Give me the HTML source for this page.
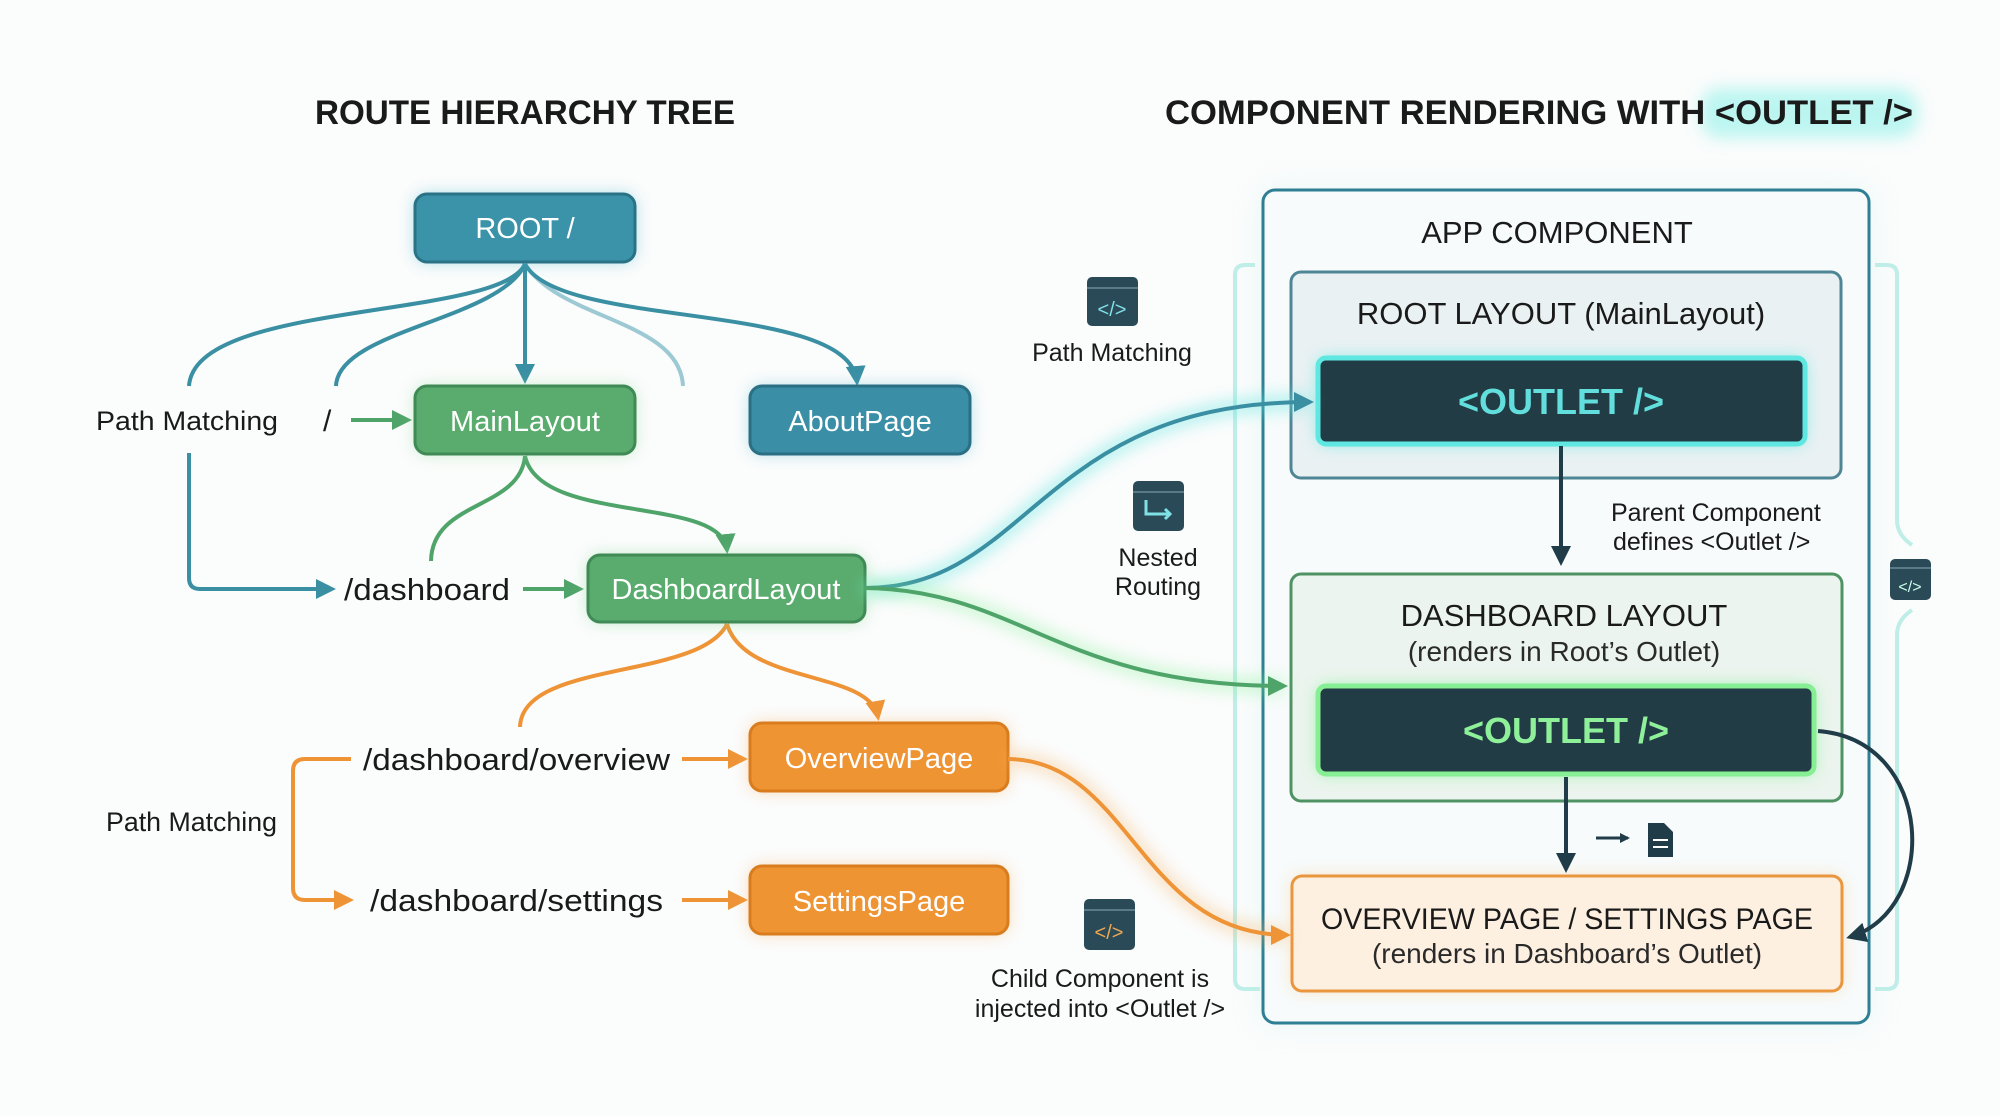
<!DOCTYPE html>
<html><head><meta charset="utf-8"><style>
html,body{margin:0;padding:0;background:#fbfcfc;}
svg{display:block;font-family:"Liberation Sans",sans-serif;}
</style></head><body>
<svg width="2000" height="1116" viewBox="0 0 2000 1116" xmlns="http://www.w3.org/2000/svg">
<defs>
<filter id="glow" x="-30%" y="-50%" width="160%" height="200%"><feGaussianBlur stdDeviation="8"/></filter>
<filter id="glow2" x="-30%" y="-30%" width="160%" height="160%"><feGaussianBlur stdDeviation="14"/></filter>
<marker id="aD" markerWidth="10" markerHeight="10" refX="8" refY="5" orient="auto" viewBox="0 0 10 10" markerUnits="userSpaceOnUse"><path d="M0,0 L10,5 L0,10 Z" fill="#1f3c48"/></marker>
<marker id="aTL" markerWidth="20" markerHeight="20" refX="16" refY="10" orient="auto" viewBox="0 0 20 20" markerUnits="userSpaceOnUse"><path d="M0,0 L20,10 L0,20 Z" fill="#3a8fa3"/></marker>
<marker id="aGL" markerWidth="20" markerHeight="20" refX="16" refY="10" orient="auto" viewBox="0 0 20 20" markerUnits="userSpaceOnUse"><path d="M0,0 L20,10 L0,20 Z" fill="#4fa46a"/></marker>
<marker id="aOL" markerWidth="20" markerHeight="20" refX="16" refY="10" orient="auto" viewBox="0 0 20 20" markerUnits="userSpaceOnUse"><path d="M0,0 L20,10 L0,20 Z" fill="#ee9436"/></marker>
<marker id="aDL" markerWidth="20" markerHeight="20" refX="16" refY="10" orient="auto" viewBox="0 0 20 20" markerUnits="userSpaceOnUse"><path d="M0,0 L20,10 L0,20 Z" fill="#1f3c48"/></marker>
</defs>

<!-- Titles -->
<text x="525" y="124" text-anchor="middle" font-size="34" font-weight="bold" fill="#1a1a1a" textLength="420" lengthAdjust="spacingAndGlyphs">ROUTE HIERARCHY TREE</text>
<rect x="1700" y="88" width="218" height="50" rx="20" fill="#7ef0e6" opacity="0.5" filter="url(#glow)"/>
<text x="1165" y="124" font-size="34" font-weight="bold" fill="#1a1a1a" textLength="748" lengthAdjust="spacingAndGlyphs">COMPONENT RENDERING WITH &lt;OUTLET /&gt;</text>

<!-- tree connectors -->
<g fill="none" stroke-width="4">
<path d="M525,264 C500,320 195,300 189,386" stroke="#3a8fa3"/>
<path d="M525,264 C500,320 338,330 336,386" stroke="#3a8fa3"/>
<path d="M525,264 C560,320 680,320 683,386" stroke="#9cc9d3"/>
<path d="M525,264 C560,330 850,300 857,382" stroke="#3a8fa3" marker-end="url(#aTL)"/>
<path d="M525,264 L525,380" stroke="#3a8fa3" marker-end="url(#aTL)"/>
<path d="M189,453 L189,578 Q189,589 200,589 L332,589" stroke="#3a8fa3" marker-end="url(#aTL)"/>
<path d="M351,420 L408,420" stroke="#4fa46a" marker-end="url(#aGL)"/>
<path d="M523,589 L580,589" stroke="#4fa46a" marker-end="url(#aGL)"/>
<path d="M525,456 C520,510 432,500 431,561" stroke="#4fa46a"/>
<path d="M525,456 C540,525 722,495 727,550" stroke="#4fa46a" marker-end="url(#aGL)"/>
<path d="M727,624 C700,680 522,660 520,727" stroke="#ee9436"/>
<path d="M727,624 C745,685 870,670 878,717" stroke="#ee9436" marker-end="url(#aOL)"/>
<path d="M351,759 L305,759 Q293,759 293,771 L293,888 Q293,900 305,900 L350,900" stroke="#ee9436" marker-end="url(#aOL)"/>
<path d="M682,759 L744,759" stroke="#ee9436" marker-end="url(#aOL)"/>
<path d="M682,900 L744,900" stroke="#ee9436" marker-end="url(#aOL)"/>
</g>

<!-- tree labels -->
<g font-size="27" fill="#1a1a1a">
<text x="96" y="430" textLength="182" lengthAdjust="spacingAndGlyphs">Path Matching</text>
<text x="323" y="431" font-size="30">/</text>
<text x="344" y="600" font-size="31" textLength="166" lengthAdjust="spacingAndGlyphs">/dashboard</text>
<text x="363" y="770" font-size="31" textLength="307" lengthAdjust="spacingAndGlyphs">/dashboard/overview</text>
<text x="370" y="911" font-size="31" textLength="293" lengthAdjust="spacingAndGlyphs">/dashboard/settings</text>
<text x="106" y="831" textLength="171" lengthAdjust="spacingAndGlyphs">Path Matching</text>
</g>

<!-- tree nodes -->
<g>
<rect x="415" y="194" width="220" height="68" rx="12" fill="#3fb3c8" opacity="0.45" filter="url(#glow)"/>
<rect x="415" y="194" width="220" height="68" rx="12" fill="#3a93a8" stroke="#2a7386" stroke-width="3"/>
<text x="525" y="238" text-anchor="middle" font-size="29" fill="#fff">ROOT /</text>

<rect x="415" y="386" width="220" height="68" rx="12" fill="#7fd68f" opacity="0.45" filter="url(#glow)"/>
<rect x="415" y="386" width="220" height="68" rx="12" fill="#5aab6e" stroke="#3f8a55" stroke-width="3"/>
<text x="525" y="431" text-anchor="middle" font-size="29" fill="#fff">MainLayout</text>

<rect x="750" y="386" width="220" height="68" rx="12" fill="#3fb3c8" opacity="0.4" filter="url(#glow)"/>
<rect x="750" y="386" width="220" height="68" rx="12" fill="#3a8ea6" stroke="#2a6f84" stroke-width="3"/>
<text x="860" y="431" text-anchor="middle" font-size="29" fill="#fff">AboutPage</text>

<rect x="588" y="555" width="277" height="67" rx="12" fill="#7fd68f" opacity="0.5" filter="url(#glow)"/>
<rect x="588" y="555" width="277" height="67" rx="12" fill="#5aab6e" stroke="#3f8a55" stroke-width="3"/>
<text x="726" y="599" text-anchor="middle" font-size="29" fill="#fff">DashboardLayout</text>

<rect x="750" y="723" width="258" height="68" rx="12" fill="#f6b060" opacity="0.5" filter="url(#glow)"/>
<rect x="750" y="723" width="258" height="68" rx="12" fill="#ef9433" stroke="#d97c1e" stroke-width="3"/>
<text x="879" y="768" text-anchor="middle" font-size="29" fill="#fff">OverviewPage</text>

<rect x="750" y="866" width="258" height="68" rx="12" fill="#f6b060" opacity="0.5" filter="url(#glow)"/>
<rect x="750" y="866" width="258" height="68" rx="12" fill="#ef9433" stroke="#d97c1e" stroke-width="3"/>
<text x="879" y="911" text-anchor="middle" font-size="29" fill="#fff">SettingsPage</text>
</g>

<!-- Right side container -->
<rect x="1263" y="190" width="606" height="833" rx="12" fill="#cdf3ef" opacity="0.5" filter="url(#glow2)"/>
<path d="M1255,265 L1245,265 Q1235,265 1235,275 L1235,979 Q1235,989 1245,989 L1260,989" fill="none" stroke="#bfeee8" stroke-width="4"/>
<path d="M1875,265 L1887,265 Q1897,265 1897,275 L1897,520 Q1897,535 1912,545 M1912,610 Q1897,620 1897,635 L1897,979 Q1897,989 1887,989 L1875,989" fill="none" stroke="#bfeee8" stroke-width="4"/>
<rect x="1263" y="190" width="606" height="833" rx="12" fill="#f7fbfb" stroke="#2e7f93" stroke-width="3"/>
<text x="1557" y="243" text-anchor="middle" font-size="31" fill="#1a1a1a">APP COMPONENT</text>

<rect x="1291" y="272" width="550" height="206" rx="10" fill="#e9f1f3" stroke="#4f8696" stroke-width="3"/>
<text x="1561" y="324" text-anchor="middle" font-size="31" fill="#1a1a1a">ROOT LAYOUT (MainLayout)</text>
<rect x="1318" y="358" width="487" height="86" rx="8" fill="#5ee6e0" opacity="0.7" filter="url(#glow)"/>
<rect x="1318" y="358" width="487" height="86" rx="8" fill="#213c45" stroke="#5fe7e2" stroke-width="5"/>
<text x="1561" y="414" text-anchor="middle" font-size="36" font-weight="bold" fill="#62dfdc">&lt;OUTLET /&gt;</text>

<rect x="1291" y="574" width="551" height="227" rx="10" fill="#ebf4ee" stroke="#4f9263" stroke-width="3"/>
<text x="1564" y="626" text-anchor="middle" font-size="31" fill="#1a1a1a">DASHBOARD LAYOUT</text>
<text x="1564" y="661" text-anchor="middle" font-size="28" fill="#2a2a2a">(renders in Root’s Outlet)</text>
<rect x="1318" y="686" width="496" height="88" rx="8" fill="#7cf08e" opacity="0.7" filter="url(#glow)"/>
<rect x="1318" y="686" width="496" height="88" rx="8" fill="#213c45" stroke="#86ee93" stroke-width="5"/>
<text x="1566" y="743" text-anchor="middle" font-size="36" font-weight="bold" fill="#8ff09a">&lt;OUTLET /&gt;</text>

<rect x="1292" y="876" width="550" height="115" rx="10" fill="#f8c68a" opacity="0.5" filter="url(#glow)"/>
<rect x="1292" y="876" width="550" height="115" rx="10" fill="#fdf0e1" stroke="#e9963f" stroke-width="3"/>
<text x="1567" y="929" text-anchor="middle" font-size="30" fill="#1a1a1a" textLength="492" lengthAdjust="spacingAndGlyphs">OVERVIEW PAGE / SETTINGS PAGE</text>
<text x="1567" y="963" text-anchor="middle" font-size="28" fill="#2a2a2a">(renders in Dashboard’s Outlet)</text>

<!-- inner arrows -->
<g fill="none" stroke="#1f3c48" stroke-width="4">
<path d="M1561,446 L1561,562" marker-end="url(#aDL)"/>
<path d="M1566,777 L1566,869" marker-end="url(#aDL)"/>
<path d="M1596,838 L1628,838" stroke-width="3" marker-end="url(#aD)"/>
<path d="M1818,731 C1935,740 1940,910 1850,937" marker-end="url(#aDL)"/>
</g>
<path d="M1648,823 L1664,823 L1673,832 L1673,857 L1648,857 Z" fill="#1f3c48"/>
<path d="M1653,840 L1668,840 M1653,847 L1668,847" stroke="#fff" stroke-width="2"/>
<text x="1611" y="521" font-size="25" fill="#1a1a1a">Parent Component</text>
<text x="1613" y="550" font-size="25" fill="#1a1a1a">defines &lt;Outlet /&gt;</text>

<!-- cross connectors -->
<path d="M865,588 C1030,588 1040,402 1310,402" fill="none" stroke="#5ee6e0" stroke-width="14" opacity="0.5" filter="url(#glow)"/>
<path d="M865,588 C1030,588 1040,402 1310,402" fill="none" stroke="#3a8fa3" stroke-width="4" marker-end="url(#aTL)"/>
<path d="M865,588 C1020,590 1060,686 1284,686" fill="none" stroke="#7cf08e" stroke-width="12" opacity="0.45" filter="url(#glow)"/>
<path d="M865,588 C1020,590 1060,686 1284,686" fill="none" stroke="#4fa46a" stroke-width="4" marker-end="url(#aGL)"/>
<path d="M1008,759 C1130,760 1140,935 1287,935" fill="none" stroke="#f6b060" stroke-width="12" opacity="0.45" filter="url(#glow)"/>
<path d="M1008,759 C1130,760 1140,935 1287,935" fill="none" stroke="#ee9436" stroke-width="4" marker-end="url(#aOL)"/>

<!-- icons -->
<g>
<rect x="1087" y="277" width="51" height="49" rx="5" fill="#2a4a57"/>
<line x1="1087" y1="288" x2="1138" y2="288" stroke="#5a7a86" stroke-width="2"/>
<text x="1112" y="316" text-anchor="middle" font-size="20" fill="#7fe0e6">&lt;/&gt;</text>
<text x="1112" y="361" text-anchor="middle" font-size="25" fill="#1a1a1a">Path Matching</text>

<rect x="1133" y="481" width="51" height="50" rx="5" fill="#2a4a57"/>
<line x1="1133" y1="492" x2="1184" y2="492" stroke="#5a7a86" stroke-width="2"/>
<path d="M1146,500 L1146,514 L1170,514 M1165,509 L1170,514 L1165,519" fill="none" stroke="#7fe0e6" stroke-width="3"/>
<text x="1158" y="566" text-anchor="middle" font-size="25" fill="#1a1a1a">Nested</text>
<text x="1158" y="595" text-anchor="middle" font-size="25" fill="#1a1a1a">Routing</text>

<rect x="1084" y="899" width="51" height="51" rx="5" fill="#2a4a57"/>
<line x1="1084" y1="910" x2="1135" y2="910" stroke="#5a7a86" stroke-width="2"/>
<text x="1109" y="939" text-anchor="middle" font-size="20" fill="#f0a850">&lt;/&gt;</text>
<text x="1100" y="987" text-anchor="middle" font-size="25" fill="#1a1a1a">Child Component is</text>
<text x="1100" y="1017" text-anchor="middle" font-size="25" fill="#1a1a1a">injected into &lt;Outlet /&gt;</text>

<rect x="1890" y="559" width="41" height="41" rx="5" fill="#2a4a57"/>
<line x1="1890" y1="568" x2="1931" y2="568" stroke="#5a7a86" stroke-width="2"/>
<text x="1910" y="592" text-anchor="middle" font-size="16" fill="#cfe">&lt;/&gt;</text>
</g>
</svg>
</body></html>
